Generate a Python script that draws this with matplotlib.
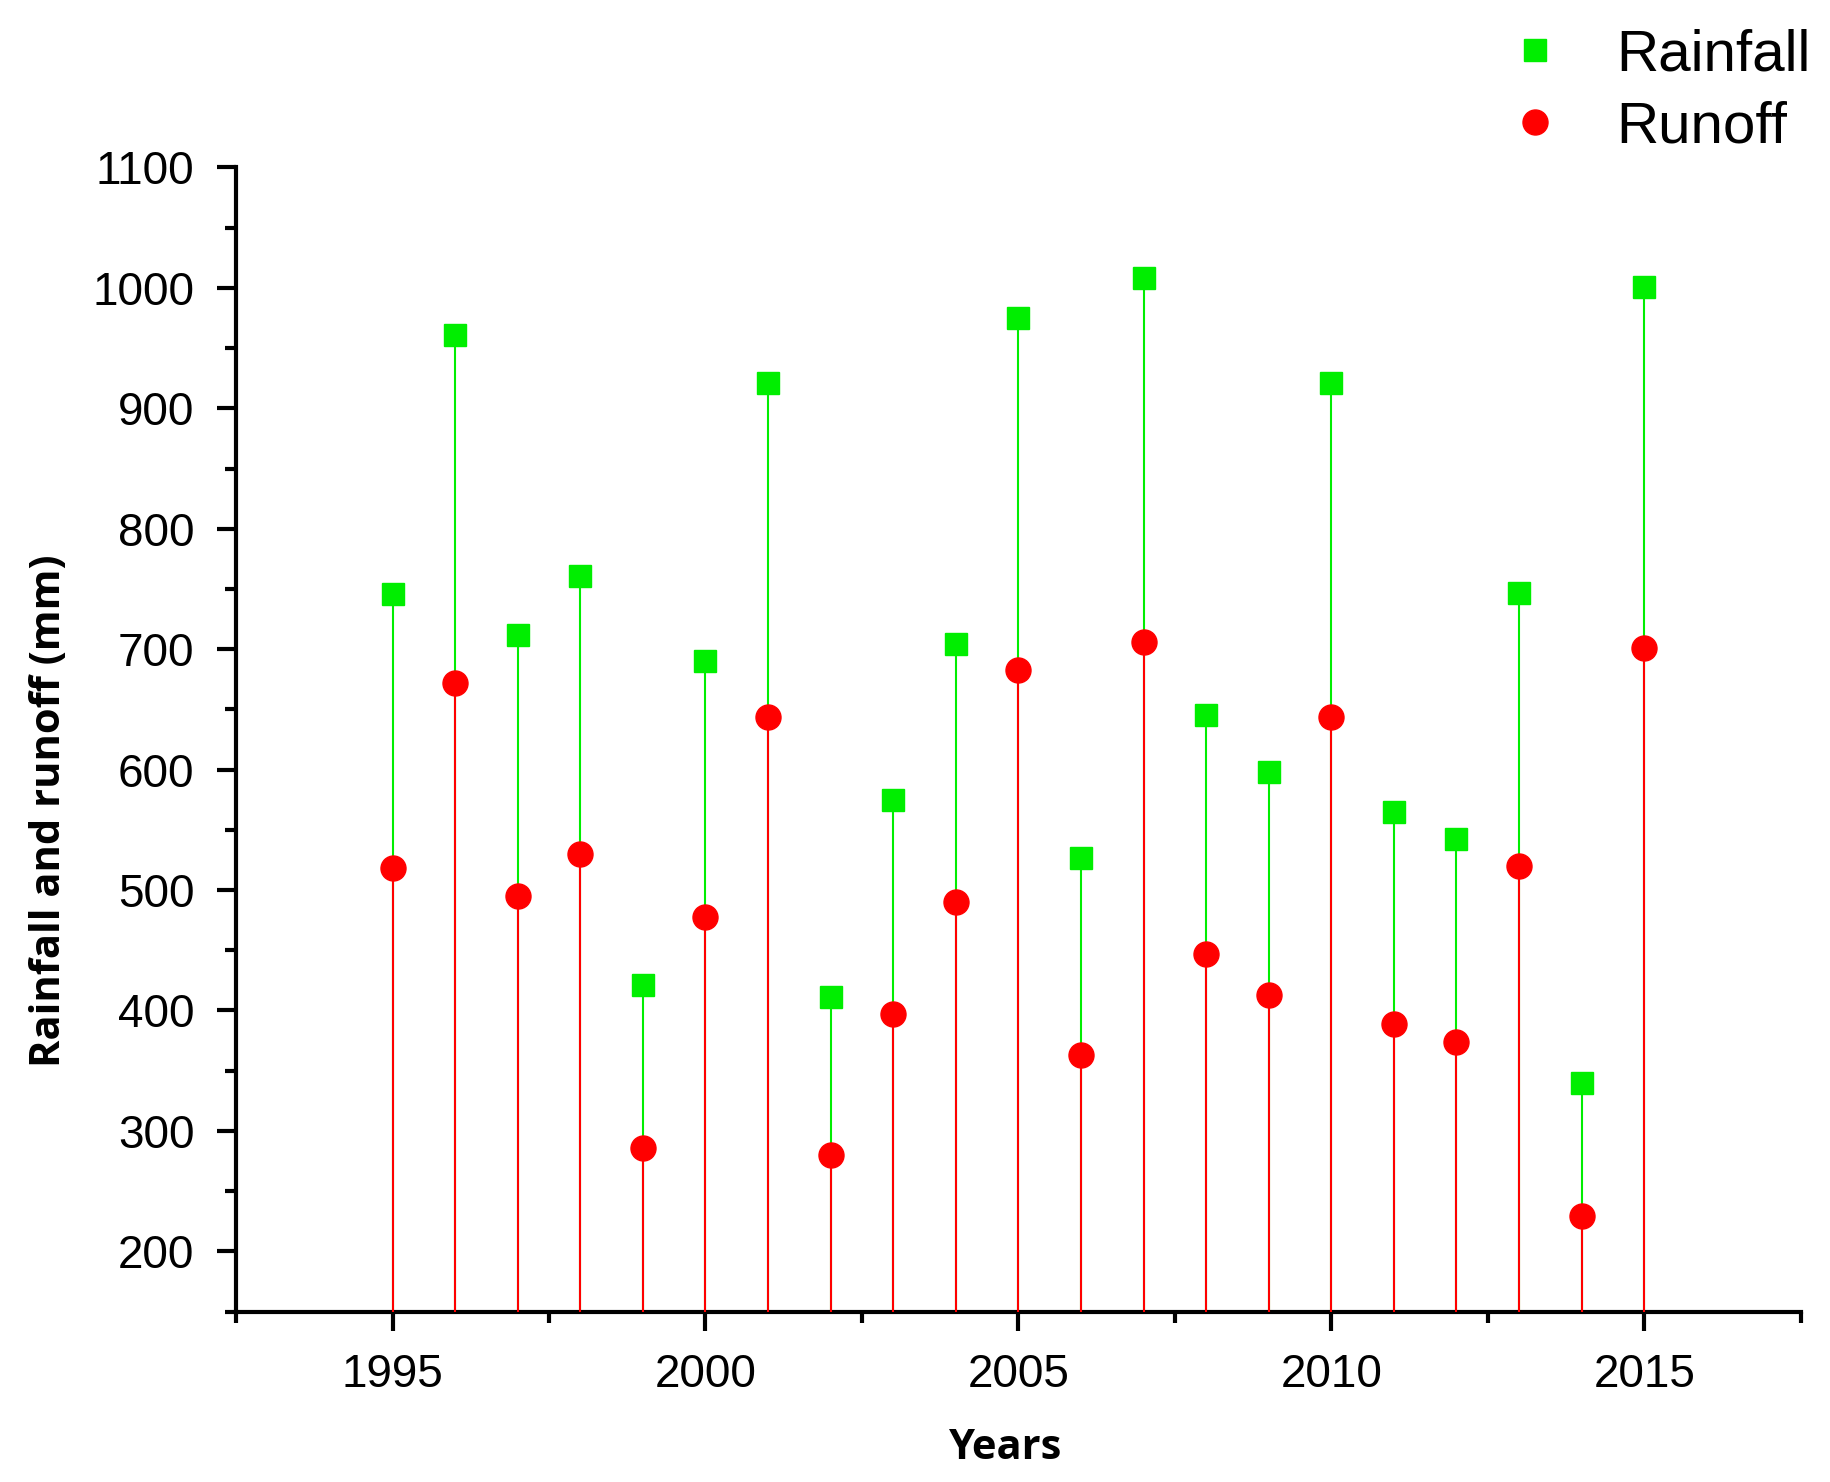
import numpy as np
import matplotlib
matplotlib.use('Agg')
import matplotlib.pyplot as plt
from matplotlib.ticker import MultipleLocator

# Data
years = list(range(1995, 2016))
rainfall = [746, 961, 712, 761, 421, 690, 921, 411, 575, 704, 975,
            527, 1008, 645, 598, 921, 565, 542, 747, 340, 1001]
runoff = [518, 672, 495, 530, 286, 478, 644, 280, 397, 490, 683,
          363, 706, 447, 413, 644, 389, 374, 520, 229, 701]

green = '#00ee00'
red = '#ff0000'
ymin = 150

fig = plt.figure(figsize=(18.3, 14.82), dpi=100)
ax = fig.add_axes([0.129, 0.115, 0.855, 0.772])

# stems from the bottom of the axes
ax.vlines(years, ymin, rainfall, color=green, lw=1.5, zorder=2)
ax.vlines(years, ymin, runoff, color=red, lw=1.5, zorder=3)
ax.plot(years, rainfall, 's', color=green, ms=16, mec=green, label='Rainfall', zorder=4)
ax.plot(years, runoff, 'o', color=red, ms=18, mec=red, label='Runoff', zorder=5)

ax.set_xlim(1992.5, 2017.5)
ax.set_ylim(ymin, 1100)
ax.xaxis.set_major_locator(MultipleLocator(5))
ax.xaxis.set_minor_locator(MultipleLocator(2.5))
ax.yaxis.set_major_locator(MultipleLocator(100))
ax.yaxis.set_minor_locator(MultipleLocator(50))
ax.set_yticks(range(200, 1101, 100))

for s in ['top', 'right']:
    ax.spines[s].set_visible(False)
for s in ['left', 'bottom']:
    ax.spines[s].set_linewidth(3)

ax.tick_params(which='major', direction='out', length=14, width=3,
               labelsize=33, pad=16)
ax.tick_params(which='minor', direction='out', length=8, width=3)
for lab in ax.get_xticklabels() + ax.get_yticklabels():
    lab.set_fontfamily('Liberation Sans')

ax.set_xlabel('Years', fontsize=30, fontweight='bold', family='Open Sans')
ax.set_ylabel('Rainfall and runoff (mm)', fontsize=30, fontweight='bold',
              family='Open Sans')
ax.xaxis.set_label_coords(0.492, -0.102)
ax.yaxis.set_label_coords(-0.106, 0.438)

ax.legend(loc='upper right', bbox_to_anchor=(1.04, 1.167), frameon=False,
          prop={'family': 'Liberation Sans', 'size': 42}, handletextpad=0.9,
          labelspacing=0.3, handlelength=1.0)

fig.savefig('out.png', dpi=100)
